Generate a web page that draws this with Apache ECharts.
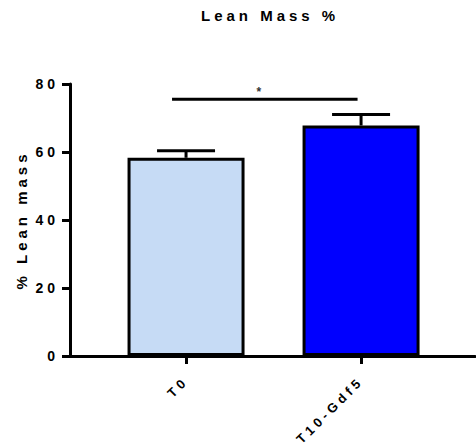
<!DOCTYPE html>
<html>
<head>
<meta charset="utf-8">
<script src="https://cdn.jsdelivr.net/npm/echarts@6/dist/echarts.min.js"></script>
<style>
  html, body { margin: 0; padding: 0; background: #fff; }
  #chart { width: 476px; height: 447px; }
  /* wide tracking on every label, as in the plotting software's style */
  #chart text { letter-spacing: 4px; }
</style>
</head>
<body>
<div id="chart"></div>
<script>
// Groups and measured means with their standard errors
const categories = ['T0', 'T10-Gdf5'];
const leanMeans = [58.3, 67.8];
const leanErrors = [2.1, 3.2];
const barColors = ['#C6DBF5', '#0000FF'];
const yTicks = [0, 20, 40, 60, 80];

// Significance bracket between the two groups (x in group index units, y in %)
const bracketFrom = [-0.08];
const bracketTo = [0.98];
const bracketLevel = [75.5];
const bracketMark = ['*'];

const FONT = '"Liberation Sans", Arial, Helvetica, sans-serif';
const HEAD = { fontFamily: FONT, fontSize: 15, fontWeight: 'bold', color: '#000' };
const TICK = { fontFamily: FONT, fontSize: 14, fontWeight: 'bold', color: '#000' };

const chart = echarts.init(document.getElementById('chart'), null, { renderer: 'svg' });

const barData = leanMeans.map((v, i) => ({
  value: [i, v],
  itemStyle: { color: barColors[i] }
}));
const errData = leanMeans.map((v, i) => [i, v, leanErrors[i]]);
const bracketData = bracketFrom.map((x0, i) => [x0, bracketTo[i], bracketLevel[i]]);

chart.setOption({
  animation: false,
  title: {
    text: 'Lean Mass %',
    left: 196,
    top: 3,
    textStyle: HEAD
  },
  grid: { left: 70, right: 1, top: 84, bottom: 91, containLabel: false },
  xAxis: {
    type: 'value',
    min: -0.663,
    max: 1.651,
    splitLine: { show: false },
    axisLine: { show: true, onZero: true, lineStyle: { color: '#000', width: 3 } },
    axisTick: { show: true, customValues: [0, 1], length: 8, lineStyle: { color: '#000', width: 3 } },
    axisLabel: Object.assign({
      customValues: [0, 1],
      rotate: 45,
      margin: 23,
      formatter: v => categories[Math.round(v)] || ''
    }, TICK, { fontSize: 13 })
  },
  yAxis: {
    type: 'value',
    min: 0,
    max: 80,
    interval: 20,
    name: '% Lean mass',
    nameLocation: 'middle',
    nameRotate: 90,
    nameGap: 41,
    nameTextStyle: HEAD,
    splitLine: { show: false },
    axisLine: { show: true, onZero: false, lineStyle: { color: '#000', width: 3 } },
    axisTick: { show: true, length: 8, lineStyle: { color: '#000', width: 3 } },
    axisLabel: Object.assign({ margin: 11, customValues: yTicks }, TICK)
  },
  series: [
    {
      type: 'bar',
      data: barData,
      barWidth: 117,
      itemStyle: { borderColor: '#000', borderWidth: 3 },
      z: 2
    },
    {
      // upward SEM whiskers with caps
      type: 'custom',
      data: errData,
      z: 3,
      renderItem: (params, api) => {
        const x = api.value(0), m = api.value(1), e = api.value(2);
        const base = api.coord([x, m]);
        const top = api.coord([x, m + e]);
        const half = 29;
        return {
          type: 'group',
          children: [
            { type: 'line', shape: { x1: base[0], y1: base[1], x2: top[0], y2: top[1] },
              style: { stroke: '#000', lineWidth: 3 } },
            { type: 'line', shape: { x1: top[0] - half, y1: top[1], x2: top[0] + half, y2: top[1] },
              style: { stroke: '#000', lineWidth: 3 } }
          ]
        };
      }
    },
    {
      // significance bar with its marker
      type: 'custom',
      data: bracketData,
      z: 3,
      renderItem: (params, api) => {
        const a = api.coord([api.value(0), api.value(2)]);
        const b = api.coord([api.value(1), api.value(2)]);
        return {
          type: 'group',
          children: [
            { type: 'line', shape: { x1: a[0], y1: a[1], x2: b[0], y2: b[1] },
              style: { stroke: '#000', lineWidth: 3 } },
            { type: 'text', x: (a[0] + b[0]) / 2 - 4, y: a[1] - 1,
              style: { text: bracketMark[params.dataIndex], fill: '#333',
                       font: 'bold 12px ' + FONT, textAlign: 'center', textVerticalAlign: 'bottom' } }
          ]
        };
      }
    }
  ]
});
</script>
</body>
</html>
